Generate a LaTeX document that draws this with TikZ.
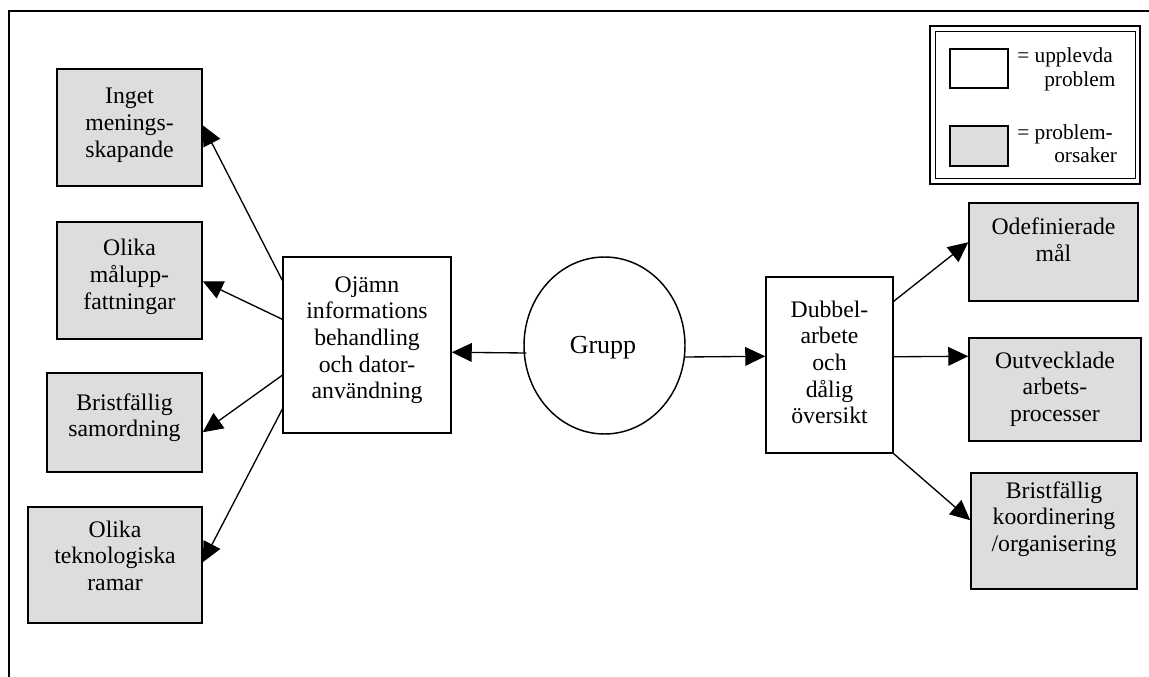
\documentclass[tikz,border=0pt]{standalone}
\usepackage{fontspec}
\setmainfont{Liberation Serif}
\usetikzlibrary{arrows.meta,calc,shapes.geometric}

\definecolor{causegray}{RGB}{221,221,221}

% centred multi-line text whose baseline is that of its first line
\newcommand{\boxtext}[1]{\begin{tabular}[t]{@{}c@{}}#1\end{tabular}}

\tikzset{
  sz/.style 2 args={minimum width=#1*0.75pt, minimum height=#2*0.75pt},
  framebox/.style={draw, line width=1.1pt, inner sep=0pt, rectangle},
  problembox/.style={framebox, fill=white},
  causebox/.style={framebox, fill=causegray},
  txt/.style={inner sep=0pt, anchor=base, font=\fontsize{17.8}{20}\selectfont},
  legtxt/.style={inner sep=0pt, anchor=base west, font=\fontsize{16}{17.5}\selectfont},
  arr/.style={draw, line width=1pt, -{Triangle[length=15pt,width=14pt]}},
}

\begin{document}
\begin{tikzpicture}[x=0.75pt, y=-0.75pt]
\useasboundingbox (0,0) rectangle (1149,677);

% outer frame (top and left edges)
\draw[line width=0.9pt] (1149,11) -- (9,11) -- (9,677);

% causes on the left
\node[causebox, sz={145}{117}] (b1) at (129.5,127.5) {};
\node[causebox, sz={145}{117}] (b2) at (129.5,280.5) {};
\node[causebox, sz={155}{99}]  (b3) at (124.5,422.5) {};
\node[causebox, sz={174}{116}] (b4) at (115,565) {};
\node[txt] (b1t) at (129.5,104) {\boxtext{Inget\\menings-\\skapande}};
\node[txt] (b2t) at (129.5,256) {\boxtext{Olika\\målupp-\\fattningar}};
\node[txt] (b3t) at (124.5,410) {\boxtext{Bristfällig\\samordning}};
\node[txt] (b4t) at (115,537) {\boxtext{Olika\\teknologiska\\ramar}};

% experienced problems and the group
\node[problembox, sz={168}{176}] (cL) at (367,345) {};
\node[txt] (cLt) at (367,292) {\boxtext{Ojämn\\informations\\behandling\\och dator-\\användning}};

\node[draw, line width=1.1pt, ellipse, inner sep=0pt, sz={161}{177}] (grupp) at (604.5,345.5) {};
\node[inner sep=0pt, anchor=base, font=\fontsize{19.5}{22}\selectfont] (gruppt) at (603,353) {Grupp};

\node[problembox, sz={127}{176}] (cR) at (829.5,365) {};
\node[txt] (cRt) at (829.5,317) {\boxtext{Dubbel-\\arbete\\och\\dålig\\översikt}};

% causes on the right
\node[causebox, sz={169}{98}]  (r1) at (1053.5,252) {};
\node[causebox, sz={172}{103}] (r2) at (1055,389.5) {};
\node[causebox, sz={166}{116}] (r3) at (1054,531) {};
\node[txt] (r1t) at (1053.5,235) {\boxtext{Odefinierade\\mål}};
\node[txt] (r2t) at (1055,368) {\boxtext{Outvecklade\\arbets-\\processer}};
\node[txt] (r3t) at (1054,498) {\boxtext{Bristfällig\\koordinering\\/organisering}};

% connectors
\draw[arr] ($(cL.north west)+(0,24)$)  -- ($(b1.north east)+(0,57)$);
\draw[arr] ($(cL.north west)+(0,63)$)  -- ($(b2.north east)+(0,60)$);
\draw[arr] ($(cL.north west)+(0,119)$) -- ($(b3.north east)+(0,60)$);
\draw[arr] ($(cL.north west)+(0,153)$) -- ($(b4.north east)+(0,56)$);
\draw[arr] ($(grupp.west)+(3,7.5)$) -- ($(cL.north east)+(0,96)$);
\draw[arr] ($(grupp.east)+(-0.5,11.5)$) -- ($(cR.north west)+(0,80)$);
\draw[arr] ($(cR.north east)+(0,25)$) -- ($(r1.north west)+(0,40)$);
\draw[arr] ($(cR.north east)+(0,80.5)$) -- ($(r2.north west)+(0,19)$);
\draw[arr] (cR.south east) -- ($(r3.north west)+(0,48)$);

% legend
\node[draw, line width=1.8pt, inner sep=0pt, sz={210}{158}] (legout) at (1035,105) {};
\node[draw, line width=0.7pt, inner sep=0pt, sz={200}{147}] (legin) at (1035,104.5) {};
\node[problembox, sz={58}{39}] (legw) at (979,68.5) {};
\node[causebox, sz={58}{40}]   (legg) at (979,146) {};
\node[legtxt] (lg1a) at (1017,63)  {= upplevda};
\node[legtxt] (lg1b) at (1044,87)  {problem};
\node[legtxt] (lg2a) at (1017,140) {= problem-};
\node[legtxt] (lg2b) at (1054,163) {orsaker};
\end{tikzpicture}
\end{document}
